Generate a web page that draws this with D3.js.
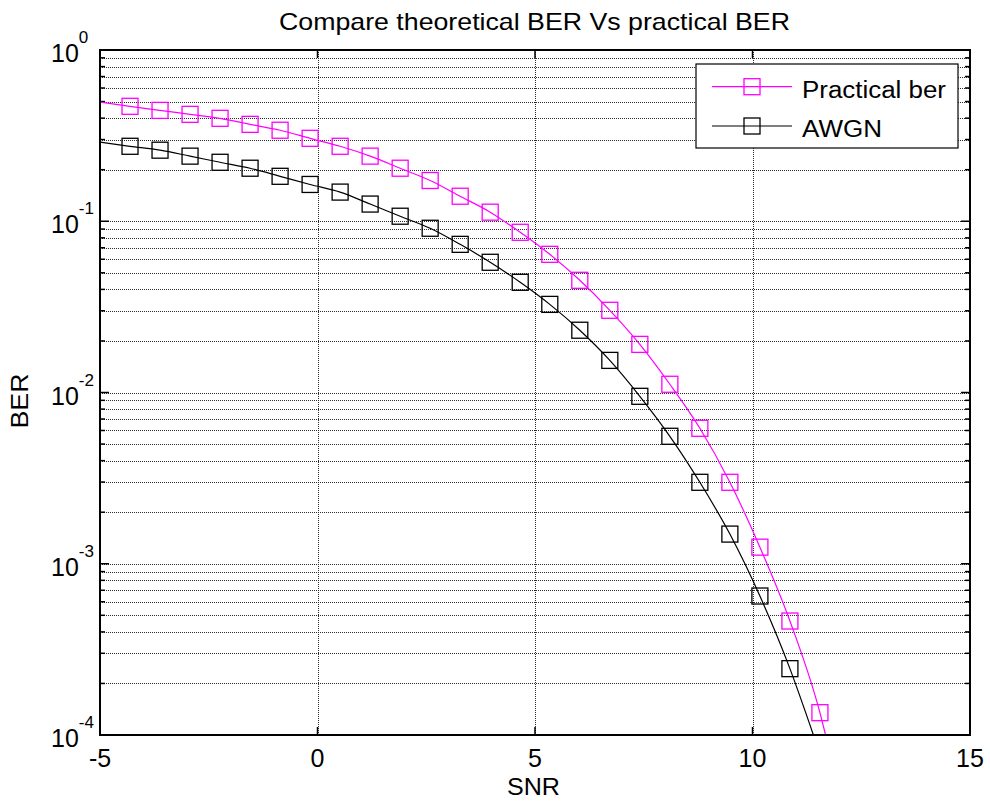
<!DOCTYPE html>
<html>
<head>
<meta charset="utf-8">
<script src="https://d3js.org/d3.v7.min.js"></script>
<style>
    body { margin: 0; background: #fff; }
    text { font-family: "Liberation Sans", Arial, sans-serif; fill: #000; }
</style>
</head>
<body>
<div id="chart"></div>
<script>
// SNR values of the markers (dB)
var snr = [-4.31, -3.62, -2.93, -2.24, -1.55, -0.86, -0.17, 0.52, 1.21, 1.90, 2.59, 3.28,
           3.97, 4.66, 5.34, 6.03, 6.72, 7.41, 8.10, 8.79, 9.48, 10.17, 10.86, 11.55];
var berPractical = [0.469, 0.444, 0.421, 0.399, 0.368, 0.340, 0.305, 0.274, 0.240, 0.204, 0.173, 0.140,
                    0.113, 0.0862, 0.0641, 0.0452, 0.0302, 0.0191, 0.01117, 0.00618, 0.00299, 0.00125, 0.000463, 0.000135];
var berAwgn = [0.274, 0.260, 0.240, 0.221, 0.204, 0.183, 0.164, 0.148, 0.126, 0.107, 0.0910, 0.0733,
               0.0576, 0.0440, 0.0327, 0.0231, 0.0154, 0.0095, 0.00555, 0.00299, 0.00149, 0.000648, 0.000244];
// where each curve enters and leaves the axes
var practicalEnds = [[-5, 0.497], [11.68, 0.0001]];
var awgnEnds = [[-5, 0.290], [11.40, 0.0001]];
var seriesNames = ["Practical ber", "AWGN"];
var seriesColors = ["#ff00ff", "#000000"];
var xTicks = [-5, 0, 5, 10, 15];
var yExponents = [0, -1, -2, -3, -4];

var W = 990, H = 809;
var pLeft = 100, pTop = 50, pRight = 970, pBottom = 735;

var svg = d3.select("#chart").append("svg")
    .attr("width", W).attr("height", H);
svg.append("rect").attr("width", W).attr("height", H).attr("fill", "#fff");

var x = d3.scaleLinear().domain([-5, 15]).range([pLeft, pRight]);
var y = d3.scaleLog().domain([1e-4, 1]).range([pBottom, pTop]);

// all minor values of the log axis
var minorVals = [];
yExponents.slice(1).forEach(function (e) {
    for (var m = 1; m <= 9; m++) minorVals.push(m * Math.pow(10, e));
});
minorVals.push(1);

// grid
var grid = svg.append("g").attr("stroke", "#2a2a2a").attr("stroke-width", 1)
    .attr("stroke-dasharray", "1,1").attr("shape-rendering", "crispEdges");
grid.selectAll("line.h").data(minorVals).enter().append("line")
    .attr("x1", pLeft).attr("x2", pRight)
    .attr("y1", function (d) { return Math.round(y(d)) + 0.5; })
    .attr("y2", function (d) { return Math.round(y(d)) + 0.5; });
grid.selectAll("line.v").data(xTicks.slice(1, -1)).enter().append("line")
    .attr("y1", pTop).attr("y2", pBottom)
    .attr("x1", function (d) { return Math.round(x(d)) + 0.5; })
    .attr("x2", function (d) { return Math.round(x(d)) + 0.5; });

// ticks (inward, all four sides)
var ticks = svg.append("g").attr("stroke", "#000").attr("stroke-width", 1.5);
minorVals.forEach(function (v) {
    var major = yExponents.some(function (e) { return Math.abs(v - Math.pow(10, e)) < 1e-12; });
    var len = major ? 9 : 5;
    var py = y(v);
    ticks.append("line").attr("x1", pLeft).attr("x2", pLeft + len).attr("y1", py).attr("y2", py);
    ticks.append("line").attr("x1", pRight).attr("x2", pRight - len).attr("y1", py).attr("y2", py);
});
xTicks.forEach(function (v) {
    var px = x(v);
    ticks.append("line").attr("x1", px).attr("x2", px).attr("y1", pBottom).attr("y2", pBottom - 8);
    ticks.append("line").attr("x1", px).attr("x2", px).attr("y1", pTop).attr("y2", pTop + 8);
});

// curves
svg.append("clipPath").attr("id", "clip").append("rect")
    .attr("x", pLeft).attr("y", pTop).attr("width", pRight - pLeft).attr("height", pBottom - pTop);

var line = d3.line()
    .x(function (d) { return x(d[0]); })
    .y(function (d) { return y(d[1]); })
    .curve(d3.curveMonotoneX);

var series = [
    { vals: berPractical, ends: practicalEnds },
    { vals: berAwgn, ends: awgnEnds }
];
series.forEach(function (s, i) {
    var pts = s.vals.map(function (v, j) { return [snr[j], v]; });
    var full = [s.ends[0]].concat(pts, [s.ends[1]]);
    var g = svg.append("g").attr("clip-path", "url(#clip)");
    g.append("path").datum(full)
        .attr("d", line)
        .attr("fill", "none")
        .attr("stroke", seriesColors[i])
        .attr("stroke-width", 1.2);
    g.selectAll("rect").data(pts).enter().append("rect")
        .attr("x", function (d) { return x(d[0]) - 8; })
        .attr("y", function (d) { return y(d[1]) - 8; })
        .attr("width", 16).attr("height", 16)
        .attr("fill", "none")
        .attr("stroke", seriesColors[i])
        .attr("stroke-width", 1.3);
});

// axes box
svg.append("rect")
    .attr("x", pLeft).attr("y", pTop).attr("width", pRight - pLeft).attr("height", pBottom - pTop)
    .attr("fill", "none").attr("stroke", "#000").attr("stroke-width", 2);

// x tick labels
svg.selectAll("text.xt").data(xTicks).enter().append("text")
    .attr("x", function (d) { return x(d); })
    .attr("y", 767)
    .attr("text-anchor", "middle")
    .attr("font-size", 25)
    .text(function (d) { return d; });

// y tick labels 10^e
yExponents.forEach(function (e) {
    var t = svg.append("text")
        .attr("x", 51)
        .attr("y", y(Math.pow(10, e)) + 12)
        .attr("font-size", 25);
    t.append("tspan").text("10");
    t.append("tspan").attr("dy", -19).attr("font-size", 17).text(e);
});

// title and axis labels
svg.append("text")
    .attr("x", 534.5).attr("y", 30)
    .attr("text-anchor", "middle")
    .attr("font-size", 24)
    .attr("textLength", 511).attr("lengthAdjust", "spacingAndGlyphs")
    .text("Compare theoretical BER Vs practical BER");
svg.append("text")
    .attr("x", 533.5).attr("y", 795)
    .attr("text-anchor", "middle")
    .attr("font-size", 24)
    .attr("textLength", 53).attr("lengthAdjust", "spacingAndGlyphs")
    .text("SNR");
svg.append("text")
    .attr("transform", "translate(28,401) rotate(-90)")
    .attr("text-anchor", "middle")
    .attr("font-size", 24)
    .attr("textLength", 55).attr("lengthAdjust", "spacingAndGlyphs")
    .text("BER");

// legend
var lg = svg.append("g");
lg.append("rect")
    .attr("x", 696).attr("y", 64).attr("width", 262).attr("height", 84)
    .attr("fill", "#fff").attr("stroke", "#000").attr("stroke-width", 1.2);
var rowY = [86.7, 126];
var labelLen = [144, 80];
seriesNames.forEach(function (name, i) {
    lg.append("line")
        .attr("x1", 712).attr("x2", 792).attr("y1", rowY[i]).attr("y2", rowY[i])
        .attr("stroke", seriesColors[i]).attr("stroke-width", 1.2);
    lg.append("rect")
        .attr("x", 744).attr("y", rowY[i] - 8).attr("width", 16).attr("height", 16)
        .attr("fill", "none").attr("stroke", seriesColors[i]).attr("stroke-width", 1.3);
    lg.append("text")
        .attr("x", 802).attr("y", rowY[i] + 11)
        .attr("font-size", 23)
        .attr("textLength", labelLen[i]).attr("lengthAdjust", "spacingAndGlyphs")
        .text(name);
});
</script>
</body>
</html>
